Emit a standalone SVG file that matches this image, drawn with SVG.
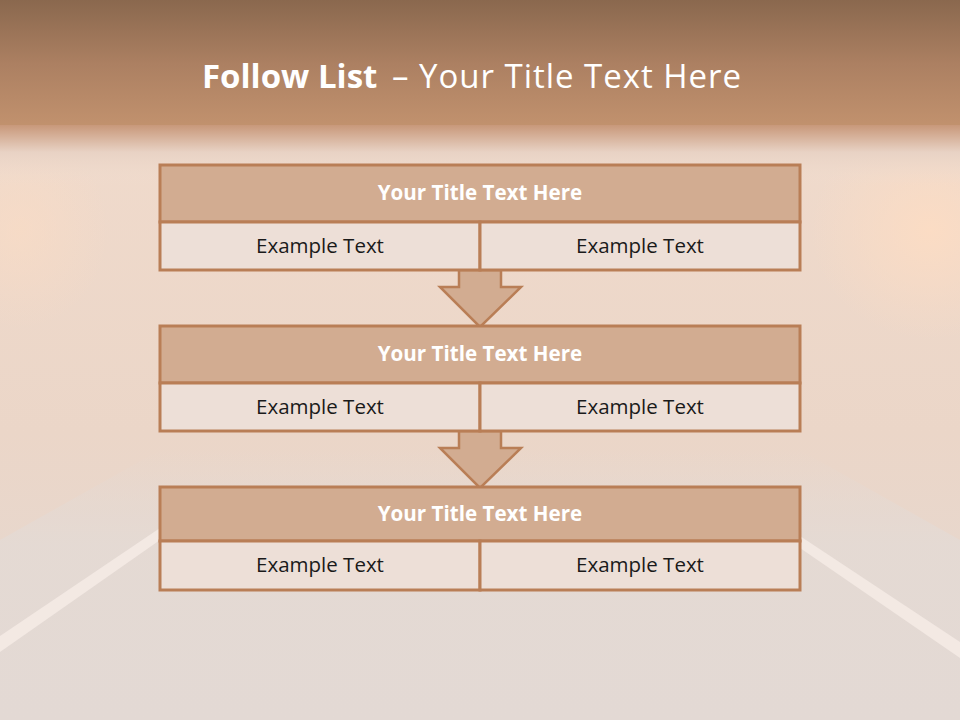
<svg xmlns="http://www.w3.org/2000/svg" width="960" height="720" viewBox="0 0 960 720">
<defs>
<linearGradient id="top" x1="0" y1="0" x2="0" y2="1">
<stop offset="0" stop-color="#8A684E"/>
<stop offset="0.5" stop-color="#AC8062"/>
<stop offset="1" stop-color="#C2926E"/>
</linearGradient>
<linearGradient id="fade" x1="0" y1="0" x2="0" y2="1">
<stop offset="0" stop-color="#C8987A"/>
<stop offset="0.45" stop-color="#E8D2C4"/>
<stop offset="1" stop-color="#F0DDD0" stop-opacity="0"/>
</linearGradient>
<linearGradient id="wall" x1="0" y1="0" x2="0" y2="1">
<stop offset="0" stop-color="#F2DCCD"/>
<stop offset="0.6" stop-color="#EBD6C8"/>
<stop offset="1" stop-color="#E3D8D2"/>
</linearGradient>
<linearGradient id="floor" x1="0" y1="0" x2="0" y2="1">
<stop offset="0" stop-color="#E4DAD4" stop-opacity="0"/>
<stop offset="0.35" stop-color="#E4DAD4" stop-opacity="0.9"/>
<stop offset="1" stop-color="#E3D9D4"/>
</linearGradient>
<radialGradient id="glowR" cx="0.5" cy="0.5" r="0.5">
<stop offset="0" stop-color="#FBDCC4"/>
<stop offset="1" stop-color="#FBDCC4" stop-opacity="0"/>
</radialGradient>
<style>
.ttl{fill:#D2AC91;stroke:#B97E56;stroke-width:3}
.cell{fill:#EDDFD7;stroke:#B97E56;stroke-width:3}
.arrow{fill:#D2AC91;stroke:#B97E56;stroke-width:2.5;stroke-linejoin:miter}
.ht{font-family:"Open Sans","Liberation Sans",sans-serif;font-weight:bold;font-size:20.6px;fill:#FFFFFF;text-anchor:middle}
.et{font-family:"Open Sans","Liberation Sans",sans-serif;font-size:20.5px;fill:#1A1A1A;text-anchor:middle}
.title{font-family:"Open Sans","Liberation Sans",sans-serif;font-size:33px;fill:#FFFFFF}
</style>
</defs>
<!-- background -->
<rect x="0" y="0" width="960" height="720" fill="url(#wall)"/>
<polygon points="0,540 160,450 800,450 960,540 960,720 0,720" fill="url(#floor)"/>
<ellipse cx="930" cy="230" rx="120" ry="110" fill="url(#glowR)"/>
<ellipse cx="20" cy="230" rx="90" ry="100" fill="url(#glowR)" opacity="0.6"/>
<polygon points="0,636 160,528 160,540 0,652" fill="#F4EAE4" opacity="0.9"/>
<polygon points="800,536 960,642 960,658 800,548" fill="#F4EAE4" opacity="0.9"/>
<rect x="0" y="0" width="960" height="128" fill="url(#top)"/>
<rect x="0" y="125" width="960" height="60" fill="url(#fade)"/>
<text class="title" y="88"><tspan x="202" font-weight="bold">Follow List</tspan><tspan x="392" textLength="349" lengthAdjust="spacing">– Your Title Text Here</tspan></text>
<g id="connectors">
<polygon class="arrow" points="459,270 501,270 501,287 521,287 480,327 440,287 459,287"/>
<polygon class="arrow" points="459,431 501,431 501,448 521,448 480,488 440,448 459,448"/>
</g>
<g id="node1">
<rect class="ttl" x="160" y="165" width="640" height="57"/>
<rect class="cell" x="160" y="222" width="320" height="48"/>
<rect class="cell" x="480" y="222" width="320" height="48"/>
<text class="ht" x="480" y="200">Your Title Text Here</text>
<text class="et" x="320" y="253">Example Text</text>
<text class="et" x="640" y="253">Example Text</text>
</g>
<g id="node2">
<rect class="ttl" x="160" y="326" width="640" height="57"/>
<rect class="cell" x="160" y="383" width="320" height="48"/>
<rect class="cell" x="480" y="383" width="320" height="48"/>
<text class="ht" x="480" y="361">Your Title Text Here</text>
<text class="et" x="320" y="414">Example Text</text>
<text class="et" x="640" y="414">Example Text</text>
</g>
<g id="node3">
<rect class="ttl" x="160" y="487" width="640" height="54"/>
<rect class="cell" x="160" y="541" width="320" height="49"/>
<rect class="cell" x="480" y="541" width="320" height="49"/>
<text class="ht" x="480" y="521">Your Title Text Here</text>
<text class="et" x="320" y="572">Example Text</text>
<text class="et" x="640" y="572">Example Text</text>
</g>
</svg>
